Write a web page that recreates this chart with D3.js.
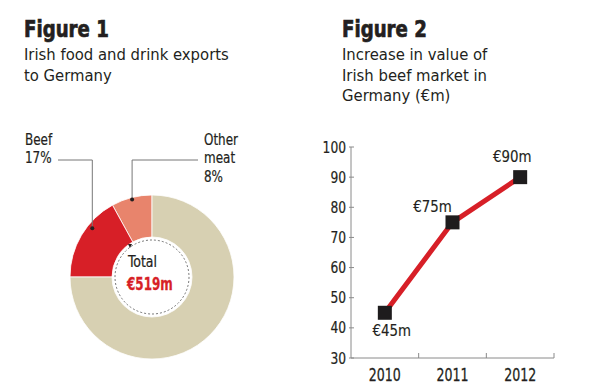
<!DOCTYPE html>
<html><head><meta charset="utf-8">
<script src="https://cdn.jsdelivr.net/npm/d3@7"></script>
<style>
body{margin:0;background:#fff;}
svg{display:block;}
</style></head>
<body>
<svg id="c" width="600" height="388"></svg>
<script>
// Figure 1 data
const shareCategories = ["Other meat", "Beef", "Other"];
const shareValues = [8, 17, 75];
const shareLabels = [["Other", "meat", "8%"], ["Beef", "17%"], []];
const totalLabel = "€519m";
// Figure 2 data
const years = ["2010", "2011", "2012"];
const beefValues = [45, 75, 90];
const valueLabels = ["€45m", "€75m", "€90m"];
const yTicks = [30, 40, 50, 60, 70, 80, 90, 100];

const svg = d3.select("#c");
const font = "'DejaVu Sans Condensed','DejaVu Sans',sans-serif";
const dark = "#231f20";

// text helper with horizontal condensing
function txt(parent, x, y, s, size, opts = {}) {
  const t = parent.append("text")
    .attr("transform", `translate(${x},${y}) scale(${opts.sx || 1},1)`)
    .attr("font-family", font).attr("font-size", size)
    .attr("fill", opts.fill || dark).text(s);
  if (opts.bold) t.attr("font-weight", "bold");
  if (opts.anchor) t.attr("text-anchor", opts.anchor);
  if (opts.stroke) t.attr("stroke", opts.fill || dark).attr("stroke-width", opts.stroke);
  return t;
}

// Titles
function title(x, y, big, lines) {
  txt(svg, x, y, big, 23.5, { bold: true, sx: 0.86, stroke: 0.7 });
  lines.forEach((l, i) => txt(svg, x, y + 23 + i * 20.5, l, 16.5));
}
title(24, 37, "Figure 1", ["Irish food and drink exports", "to Germany"]);
title(342, 37, "Figure 2", ["Increase in value of", "Irish beef market in", "Germany (€m)"]);

// Donut
const cx = 152, cy = 277, rOut = 82, rIn = 40;
const colors = d3.scaleOrdinal().domain(shareCategories).range(["#e8846c", "#d71f27", "#d7d0b2"]);
const pie = d3.pie().sort(null).startAngle(0).endAngle(-2 * Math.PI).value(d => d);
const arcs = pie(shareValues);
const arc = d3.arc().innerRadius(rIn).outerRadius(rOut);
const g1 = svg.append("g").attr("transform", `translate(${cx},${cy})`);
g1.selectAll("path").data(arcs).join("path")
  .attr("d", arc).attr("fill", (d, i) => colors(shareCategories[i]))
  .attr("stroke", "#fff").attr("stroke-width", 0.8);
g1.append("circle").attr("r", 37).attr("fill", "none").attr("stroke", "#555")
  .attr("stroke-width", 0.8).attr("stroke-dasharray", "2,2");
// small arrow
g1.append("path").attr("d", "M-24,-33 L-20,-33 L-22,-29 Z").attr("fill", dark);

txt(g1, -24, -10, "Total", 15, { sx: 0.93, stroke: 0.2 });
txt(g1, -25, 12.5, totalLabel, 18.5, { bold: true, sx: 0.72, fill: "#d71f27", stroke: 0.3 });

// Labels with leaders
const labelSize = 15.5, labelSx = 0.86, lh = 18.3;
function leaderPoint(a, frac, r) {
  const ang = a.startAngle + frac * (a.endAngle - a.startAngle);
  return [cx + Math.sin(ang) * r, cy - Math.cos(ang) * r];
}
// Beef
const bPt = leaderPoint(arcs[1], 0.36, 77);
shareLabels[1].forEach((t, i) => txt(svg, 25, 145 + i * lh, t, labelSize, { sx: labelSx, stroke: 0.2 }));
svg.append("path").attr("d", `M58,160 H${bPt[0]} V${bPt[1]}`).attr("fill", "none")
  .attr("stroke", "#777").attr("stroke-width", 1);
svg.append("circle").attr("cx", bPt[0]).attr("cy", bPt[1]).attr("r", 2).attr("fill", dark);
// Other meat
const oPt = leaderPoint(arcs[0], 0.5, 80);
shareLabels[0].forEach((t, i) => txt(svg, 204, 145 + i * lh, t, labelSize, { sx: labelSx, stroke: 0.2 }));
svg.append("path").attr("d", `M198,160 H${oPt[0]} V${oPt[1]}`).attr("fill", "none")
  .attr("stroke", "#777").attr("stroke-width", 1);
svg.append("circle").attr("cx", oPt[0]).attr("cy", oPt[1]).attr("r", 2).attr("fill", dark);

// Line chart
const x = d3.scaleBand().domain(years).range([351, 554]);
const y = d3.scaleLinear().domain([30, 100]).range([358, 147]);
const axisCol = "#8a8a8a";
// y axis
svg.append("line").attr("x1", 351).attr("x2", 351).attr("y1", y(100)).attr("y2", y(30))
  .attr("stroke", axisCol).attr("stroke-width", 1);
const yg = svg.append("g");
yg.selectAll("line").data(yTicks).join("line")
  .attr("x1", 349).attr("x2", 354).attr("y1", d => y(d)).attr("y2", d => y(d))
  .attr("stroke", axisCol);
yTicks.forEach(d => txt(yg, 346, y(d) + 5.5, d, 15.5, { sx: 0.88, anchor: "end", stroke: 0.2 }));
// x axis
svg.append("line").attr("x1", 351).attr("x2", 554).attr("y1", 358).attr("y2", 358)
  .attr("stroke", axisCol);
const bounds = years.map(d => x(d) + x.bandwidth());
svg.selectAll(".xt").data(bounds).join("line").attr("class", "xt")
  .attr("x1", d => d).attr("x2", d => d).attr("y1", 358).attr("y2", 353).attr("stroke", axisCol);
years.forEach(d => txt(svg, x(d) + x.bandwidth() / 2, 380.5, d, 17.5, { sx: 0.8, anchor: "middle", stroke: 0.25 }));
// line
const pts = years.map((d, i) => [x(d) + x.bandwidth() / 2, y(beefValues[i])]);
svg.append("path").attr("d", d3.line()(pts)).attr("fill", "none")
  .attr("stroke", "#d71f27").attr("stroke-width", 5);
svg.selectAll(".mk").data(pts).join("rect").attr("class", "mk")
  .attr("x", d => d[0] - 7).attr("y", d => d[1] - 7).attr("width", 14).attr("height", 14)
  .attr("fill", "#1e1c1d");
const lblOff = [[7, 23], [-20, -10], [-8, -15]];
pts.forEach((d, i) => txt(svg, d[0] + lblOff[i][0], d[1] + lblOff[i][1], valueLabels[i], 16.5,
  { sx: 0.9, anchor: "middle", stroke: 0.15 }));
</script>
</body></html>
